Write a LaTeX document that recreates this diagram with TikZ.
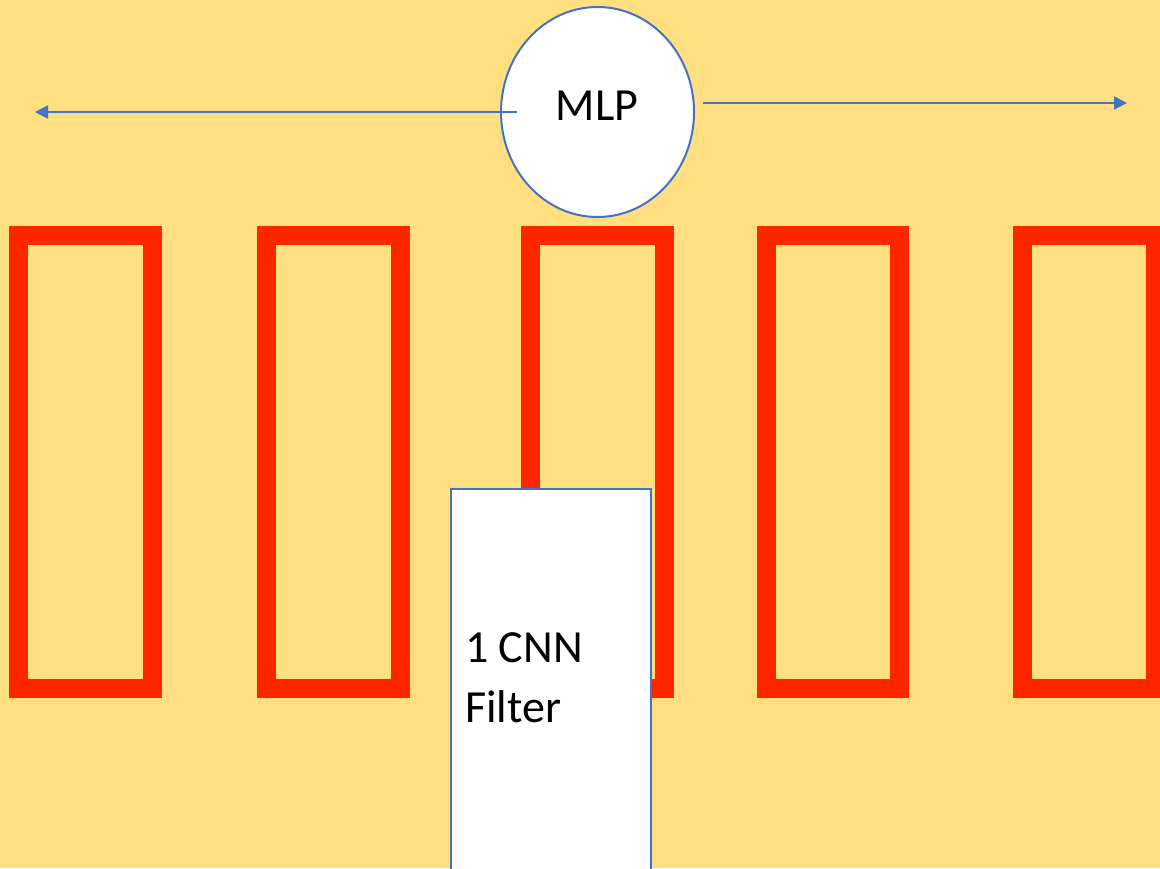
\documentclass[tikz,border=0pt]{standalone}
\usepackage{fontspec}
\setmainfont{Carlito}
\usetikzlibrary{arrows.meta,shapes.geometric}
\definecolor{bgyellow}{RGB}{255,223,128}
\definecolor{redbar}{RGB}{255,38,0}
\definecolor{blueline}{RGB}{68,114,196}
\tikzset{
  redcell/.style={draw=redbar, line width=19pt, rectangle, minimum width=133.5pt, minimum height=453pt, inner sep=0pt, anchor=north west},
  bluearrow/.style={draw=blueline, line width=2pt, -{Triangle[length=13pt,width=13pt]}},
  lbl/.style={font=\fontsize{46}{60}\selectfont, inner sep=0pt, text=black}
}
\begin{document}
\begin{tikzpicture}[x=1pt,y=-1pt]
\useasboundingbox (0,0) rectangle (1160,868);
\clip (0,0) rectangle (1160,868);
\fill[bgyellow] (0,0) rectangle (1160,868);
% red cells (anchored at outer north west corner)
\node[redcell] (c1) at (9,226) {};
\node[redcell] (c2) at (257,226) {};
\node[redcell] (c3) at (521,226) {};
\node[redcell] (c4) at (756.5,226) {};
\node[redcell] (c5) at (1012.5,226) {};
% filter box
\node[draw=blueline, fill=white, line width=2pt, rectangle, minimum width=200pt, minimum height=400pt, inner sep=0pt, anchor=north west] (filter) at (450,488) {};
\node[lbl, anchor=base west] (f1) at (465,662) {1 CNN};
\node[lbl, anchor=base west] (f2) at (465,722) {Filter};
% MLP ellipse
\node[ellipse, draw=blueline, fill=white, line width=2pt, minimum width=193pt, minimum height=210pt, inner sep=0pt] (mlp) at (597.5,112) {};
\node[lbl, anchor=base] (mlpt) at (597,120) {MLP};
% arrows
\coordinate (lstart) at (517,112);
\coordinate (lend) at (35,112);
\coordinate (rstart) at (703,103);
\coordinate (rend) at (1127,103);
\draw[bluearrow] (lstart) -- (lend);
\draw[bluearrow] (rstart) -- (rend);
\end{tikzpicture}
\end{document}
